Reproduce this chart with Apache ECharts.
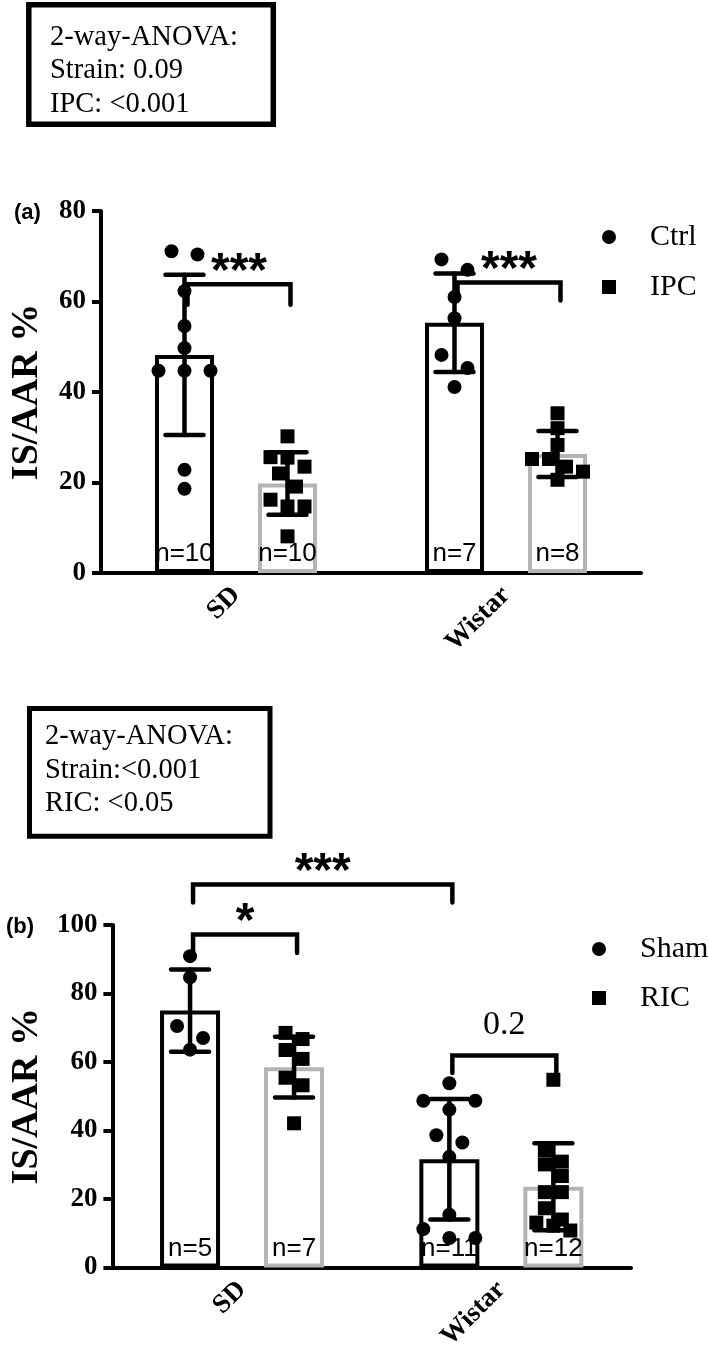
<!DOCTYPE html>
<html><head><meta charset="utf-8">
<script src="https://cdn.jsdelivr.net/npm/echarts@6/dist/echarts.min.js"></script>
<style>html,body{margin:0;padding:0;background:#fff}#c{width:709px;height:1353px}</style>
</head><body><div id="c"></div>
<script>
// ---------- data ----------
const categories = ['SD', 'Wistar'];
const yMaxA = 80, yMaxB = 100, yStep = 20;
// Panel (a): Ctrl vs IPC
const ctrlPoints = [[71.1, 70.4, 62.3, 54.6, 49.7, 44.7, 44.7, 44.7, 22.8, 18.6], [69.3, 67.0, 61.0, 56.3, 48.2, 45.3, 41.1]];
const ipcPoints  = [[30.2, 25.6, 25.5, 23.5, 22.0, 19.1, 16.2, 14.7, 14.7, 8.1], [35.3, 32.0, 28.3, 25.2, 25.2, 23.5, 22.4, 20.6]];
const ctrlMean = [48.2, 55.3], ctrlSD = [17.7, 10.9], ctrlN = [10, 7];
const ipcMean  = [19.8, 26.3], ipcSD  = [6.9, 5.1],   ipcN  = [10, 8];
// Panel (b): Sham vs RIC
const shamPoints = [[90.9, 84.7, 70.5, 67.0, 63.6], [53.8, 48.7, 46.1, 48.7, 38.6, 36.5, 32.3, 15.4, 11.2, 8.6, 8.6]];
const ricPoints  = [[68.5, 66.7, 63.5, 60.9, 55.4, 53.2, 42.1], [54.8, 34.2, 30.9, 30.1, 26.7, 22.0, 22.0, 17.3, 14.0, 13.1, 12.2, 10.8]];
const shamMean = [75.0, 31.6], shamSD = [12.0, 17.6], shamN = [5, 11];
const ricMean  = [58.5, 23.6], ricSD  = [8.9, 12.7],  ricN  = [7, 12];
// brackets: [leftCat, leftSide, rightCat, rightSide, topValue, leftEndValue, rightEndValue]
const bracketsA = [[0, -1, 0, 1, 63.8, 59.3, 59.3], [1, -1, 1, 1, 64.2, 60.2, 60.2]];
const bracketLabelsA = ['***', '***'];
const bracketsB = [[0, -1, 0, 1, 97.2, 91.8, 91.8], [0, -1, 1, -1, 111.8, 106.6, 106.6], [1, -1, 1, 1, 61.9, 56.8, 56.8]];
const bracketLabelsB = ['*', '***', '0.2'];
const anovaA = ['2-way-ANOVA:', 'Strain: 0.09', 'IPC: <0.001'];
const anovaB = ['2-way-ANOVA:', 'Strain:<0.001', 'RIC: <0.05'];

// ---------- styles ----------
const SERIF = 'Liberation Serif', SANS = 'Liberation Sans';
const BLACK = '#000', GRAY = '#b4b4b4';
const BW_A = 59, GAP_A = 44, BW_B = 60, GAP_B = 44;
const BRACKET_SHIFT = 3;

function yAxis(gi, max) {
  return {
    type: 'value', gridIndex: gi, min: 0, max: max, interval: yStep,
    name: 'IS/AAR %', nameLocation: 'middle', nameGap: 55,
    nameTextStyle: { fontFamily: SERIF, fontWeight: 'bold', fontSize: 38, color: BLACK },
    axisLine: { show: true, lineStyle: { color: BLACK, width: 4 } },
    axisTick: { show: true, length: 9, lineStyle: { color: BLACK, width: 4 } },
    axisLabel: { fontFamily: SERIF, fontWeight: 'bold', fontSize: 27, color: BLACK, margin: 15 },
    splitLine: { show: false }
  };
}
function xAxis(gi) {
  return {
    type: 'category', gridIndex: gi, data: categories,
    axisLine: { show: true, lineStyle: { color: BLACK, width: 4 } },
    axisTick: { show: false },
    axisLabel: { rotate: 45, interval: 0, fontFamily: SERIF, fontWeight: 'bold', fontSize: 27, color: BLACK, margin: 18 }
  };
}
function barSeries(name, gi, means, nArr, border, bw, gap) {
  return {
    type: 'bar', name: name, xAxisIndex: gi, yAxisIndex: gi, data: means,
    barWidth: bw, barGap: (gap / bw * 100) + '%', z: 2, silent: true,
    itemStyle: { color: '#fff', borderColor: border, borderWidth: 4 },
    label: { show: true, position: 'insideBottom', distance: 6,
      formatter: p => 'n=' + nArr[p.dataIndex],
      fontFamily: SANS, fontSize: 26, color: BLACK }
  };
}
function errSeries(gi, means, sds, side, off) {
  return {
    type: 'custom', xAxisIndex: gi, yAxisIndex: gi, z: 4, silent: true,
    data: means.map((m, i) => [i, m, sds[i]]),
    renderItem(params, api) {
      const i = api.value(0), m = api.value(1), s = api.value(2);
      const t = api.coord([i, m + s]), b = api.coord([i, m - s]);
      const x = t[0] + side * off;
      const st = { stroke: BLACK, lineWidth: 4.5, lineCap: 'round' };
      return { type: 'group', children: [
        { type: 'line', shape: { x1: x, y1: t[1], x2: x, y2: b[1] }, style: st },
        { type: 'line', shape: { x1: x - 19, y1: t[1], x2: x + 19, y2: t[1] }, style: st },
        { type: 'line', shape: { x1: x - 19, y1: b[1], x2: x + 19, y2: b[1] }, style: st }
      ] };
    }
  };
}
function pointSeries(name, gi, pts, side, off, shape) {
  const size = 14, spacing = shape === 'circle' ? 26 : 17;
  return {
    type: 'custom', name: name, xAxisIndex: gi, yAxisIndex: gi, z: 5, silent: true,
    itemStyle: { color: BLACK },
    data: pts.map((p, i) => [i, p[0]]),
    renderItem(params, api) {
      const i = api.value(0), vals = pts[i];
      const cx = api.coord([i, 0])[0] + side * off;
      const ys = vals.map(v => api.coord([i, v])[1]);
      const rows = []; let cur = null;
      ys.forEach((y, k) => {
        if (!cur || Math.abs(y - cur.y0) > size) { cur = { y0: y, idx: [] }; rows.push(cur); }
        cur.idx.push(k);
      });
      const children = [];
      rows.forEach(r => {
        const n = r.idx.length;
        r.idx.forEach((k, j) => {
          const x = cx + (j - (n - 1) / 2) * spacing, y = ys[k];
          children.push(shape === 'circle'
            ? { type: 'circle', shape: { cx: x, cy: y, r: size / 2 }, style: { fill: BLACK } }
            : { type: 'rect', shape: { x: x - size / 2, y: y - size / 2, width: size, height: size }, style: { fill: BLACK } });
        });
      });
      return { type: 'group', children: children };
    }
  };
}
function bracketSeries(gi, items, labels, off) {
  return {
    type: 'custom', xAxisIndex: gi, yAxisIndex: gi, z: 6, silent: true, clip: false,
    data: items.map((d, i) => [d[0], d[4], i]),
    renderItem(params, api) {
      const d = items[params.dataIndex];
      const x1 = api.coord([d[0], d[4]])[0] + d[1] * off + BRACKET_SHIFT;
      const x2 = api.coord([d[2], d[4]])[0] + d[3] * off + BRACKET_SHIFT;
      const yt = api.coord([d[0], d[4]])[1];
      const y1 = api.coord([d[0], d[5]])[1], y2 = api.coord([d[2], d[6]])[1];
      const lab = labels[params.dataIndex];
      const star = /^\*+$/.test(lab);
      return { type: 'group', children: [
        { type: 'polyline', shape: { points: [[x1, y1], [x1, yt], [x2, yt], [x2, y2]] },
          style: { stroke: BLACK, lineWidth: 4.5, fill: 'none', lineCap: 'round', lineJoin: 'miter' } },
        { type: 'text', x: (x1 + x2) / 2, y: star ? yt - 12 : yt - 30,
          style: { text: lab, fill: BLACK, align: 'center', verticalAlign: 'middle',
            font: star ? 'bold 48px "Liberation Sans"' : '34px "Liberation Serif"' } }
      ] };
    }
  };
}
function mkLegend(name, icon, left, cy) {
  return {
    data: [{ name: name, icon: icon }], left: left, top: cy - 15, padding: 0,
    itemWidth: 14, itemHeight: 14, selectedMode: false,
    textStyle: { fontFamily: SERIF, fontSize: 30, color: BLACK, lineHeight: 30, padding: [0, 0, 0, 29] }
  };
}
function boxText(x, top, lines, lh) {
  return { type: 'text', x: x, y: top,
    style: { text: lines.join('\n'), font: '28.5px "Liberation Serif"', fill: BLACK,
      verticalAlign: 'top', lineHeight: lh } };
}

const offA = (BW_A + GAP_A) / 2, offB = (BW_B + GAP_B) / 2;
const chart = echarts.init(document.getElementById('c'), null, { renderer: 'canvas' });
chart.setOption({
  animation: false,
  backgroundColor: '#fff',
  textStyle: { fontFamily: SERIF },
  grid: [
    { left: 95, top: 211, width: 546, height: 362 },
    { left: 96, top: 925, width: 535, height: 354 }
  ],
  xAxis: [xAxis(0), xAxis(1)],
  yAxis: [yAxis(0, yMaxA), yAxis(1, yMaxB)],
  legend: [
    mkLegend('Ctrl', 'circle', 602, 237), mkLegend('IPC', 'rect', 602, 287),
    mkLegend('Sham', 'circle', 592, 949), mkLegend('RIC', 'rect', 592, 998)
  ],
  series: [
    barSeries('Ctrl bar', 0, ctrlMean, ctrlN, BLACK, BW_A, GAP_A),
    barSeries('IPC bar', 0, ipcMean, ipcN, GRAY, BW_A, GAP_A),
    errSeries(0, ctrlMean, ctrlSD, -1, offA),
    errSeries(0, ipcMean, ipcSD, 1, offA),
    pointSeries('Ctrl', 0, ctrlPoints, -1, offA, 'circle'),
    pointSeries('IPC', 0, ipcPoints, 1, offA, 'rect'),
    bracketSeries(0, bracketsA, bracketLabelsA, offA),
    barSeries('Sham bar', 1, shamMean, shamN, BLACK, BW_B, GAP_B),
    barSeries('RIC bar', 1, ricMean, ricN, GRAY, BW_B, GAP_B),
    errSeries(1, shamMean, shamSD, -1, offB),
    errSeries(1, ricMean, ricSD, 1, offB),
    pointSeries('Sham', 1, shamPoints, -1, offB, 'circle'),
    pointSeries('RIC', 1, ricPoints, 1, offB, 'rect'),
    bracketSeries(1, bracketsB, bracketLabelsB, offB)
  ],
  graphic: [
    { type: 'rect', shape: { x: 28.8, y: 4.8, width: 244.5, height: 119.5 }, style: { fill: 'none', stroke: BLACK, lineWidth: 5.5 } },
    boxText(50, 20.3, anovaA, 33.5),
    { type: 'rect', shape: { x: 29.5, y: 708.5, width: 240.5, height: 127.7 }, style: { fill: 'none', stroke: BLACK, lineWidth: 5 } },
    boxText(45, 720.3, anovaB, 33.3),
    { type: 'text', x: 14, y: 213, style: { text: '(a)', font: 'bold 22px "Liberation Sans"', fill: BLACK, verticalAlign: 'middle' } },
    { type: 'text', x: 6, y: 927, style: { text: '(b)', font: 'bold 22px "Liberation Sans"', fill: BLACK, verticalAlign: 'middle' } }
  ]
});
</script></body></html>
